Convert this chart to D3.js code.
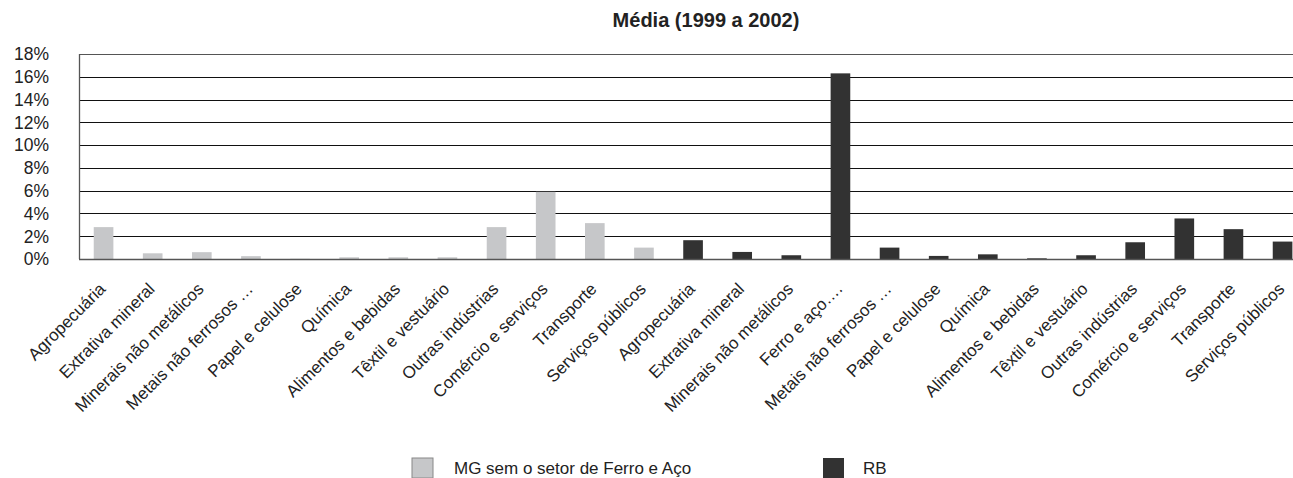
<!DOCTYPE html>
<html>
<head>
<meta charset="utf-8">
<script src="https://cdn.jsdelivr.net/npm/d3@7"></script>
<style>
html,body{margin:0;padding:0;background:#fff;}
svg{display:block;}
text{font-family:"Liberation Sans","Arial",sans-serif;fill:#222;}
</style>
</head>
<body>
<svg id="chart" width="1293" height="478"></svg>
<script>
const title = "Média (1999 a 2002)";
const mgCategories = ["Agropecuária","Extrativa mineral","Minerais não metálicos","Metais não ferrosos …","Papel e celulose","Química","Alimentos e bebidas","Têxtil e vestuário","Outras indústrias","Comércio e serviços","Transporte","Serviços públicos"];
const mgValues = [2.8,0.5,0.6,0.25,0.02,0.15,0.15,0.15,2.8,5.9,3.15,1.0];
const rbCategories = ["Agropecuária","Extrativa mineral","Minerais não metálicos","Ferro e aço….","Metais não ferrosos …","Papel e celulose","Química","Alimentos e bebidas","Têxtil e vestuário","Outras indústrias","Comércio e serviços","Transporte","Serviços públicos"];
const rbValues = [1.65,0.62,0.33,16.3,1.0,0.27,0.41,0.06,0.33,1.47,3.56,2.62,1.53];
const yTicks = [0,2,4,6,8,10,12,14,16,18];
const seriesNames = ["MG sem o setor de Ferro e Aço","RB"];
const colors = {mg:"#c6c7c9", rb:"#323232"};

const rows = mgCategories.map((c,i)=>({key:"mg"+i,label:c,value:mgValues[i],s:"mg"}))
  .concat(rbCategories.map((c,i)=>({key:"rb"+i,label:c,value:rbValues[i],s:"rb"})));

const svg = d3.select("#chart");
const plotLeft = 79, plotTop = 54, plotBottom = 259;
const step = 49.125;
const x = d3.scaleBand().domain(rows.map(d=>d.key)).range([plotLeft, plotLeft + step*rows.length]).paddingInner(0.6).paddingOuter(0.3);
const y = d3.scaleLinear().domain([0,18]).range([plotBottom, plotTop]);

// gridlines
svg.append("g").selectAll("line").data(yTicks.filter(t=>t>0)).join("line")
  .attr("x1", plotLeft).attr("x2", 1293)
  .attr("y1", d=>Math.round(y(d))+0.5).attr("y2", d=>Math.round(y(d))+0.5)
  .attr("stroke", d=> d===18 ? "#555" : "#111").attr("stroke-width",1.2);

// y tick labels
svg.append("g").selectAll("text").data(yTicks).join("text")
  .attr("x", 49).attr("y", d=>y(d)).attr("dy","0.36em")
  .attr("text-anchor","end").style("font-size","17.5px")
  .text(d=>d+"%");

// bars
svg.append("g").selectAll("rect").data(rows).join("rect")
  .attr("x", d=>x(d.key)).attr("width", x.bandwidth())
  .attr("y", d=>y(d.value)).attr("height", d=>y(0)-y(d.value))
  .attr("fill", d=>colors[d.s]);

// axes lines
svg.append("line").attr("x1",plotLeft+0.5).attr("x2",plotLeft+0.5).attr("y1",plotTop).attr("y2",plotBottom)
  .attr("stroke","#555").attr("stroke-width",1.3);
svg.append("line").attr("x1",plotLeft).attr("x2",1293).attr("y1",plotBottom+0.5).attr("y2",plotBottom+0.5)
  .attr("stroke","#555").attr("stroke-width",1.5);

// x labels
svg.append("g").selectAll("text").data(rows).join("text")
  .attr("transform", d=>`translate(${x(d.key)+x.bandwidth()/2+3},290) rotate(-45)`)
  .attr("text-anchor","end").style("font-size","17px")
  .text(d=>d.label);

// title
svg.append("text").attr("x",706).attr("y",27).attr("text-anchor","middle")
  .style("font-size","20px").style("font-weight","bold").text(title);

// legend
const legend = [{name:seriesNames[0], s:"mg", x:412},{name:seriesNames[1], s:"rb", x:823}];
const lg = svg.append("g").selectAll("g").data(legend).join("g")
  .attr("transform", d=>`translate(${d.x},458)`);
lg.append("rect").attr("width",21).attr("height",20)
  .attr("fill", d=>colors[d.s]).attr("stroke", d=>d.s==="mg"?"#888":"none");
lg.append("text").attr("x",d=>d.s==="mg"?42:40).attr("y",16).style("font-size","17px").text(d=>d.name);
</script>
</body>
</html>
